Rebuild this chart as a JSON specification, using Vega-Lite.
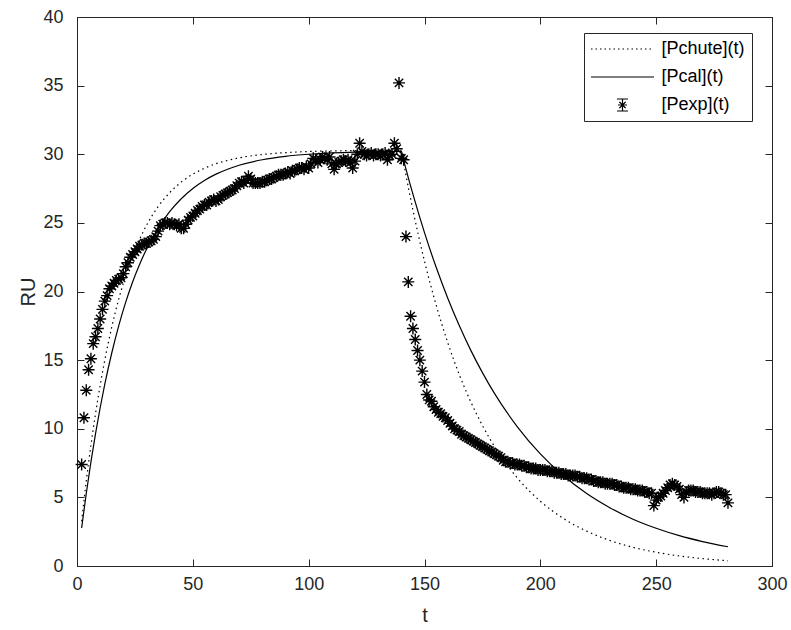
{
  "$schema": "https://vega.github.io/schema/vega-lite/v6.json",
  "width": 695,
  "height": 549,
  "autosize": {"type": "none"},
  "padding": {"left": 77, "top": 17, "right": 19, "bottom": 64},
  "background": "white",
  "config": {
    "view": {"stroke": "#262626", "strokeWidth": 1},
    "font": "Liberation Sans",
    "axis": {
      "grid": false,
      "domainColor": "#262626",
      "tickColor": "#262626",
      "labelColor": "#262626",
      "titleColor": "#262626",
      "labelFont": "Liberation Sans",
      "titleFont": "Liberation Sans",
      "labelFontSize": 18,
      "titleFontSize": 20,
      "titleFontWeight": "normal",
      "tickSize": -7,
      "domainWidth": 1,
      "tickWidth": 1,
      "labelFlush": false,
      "labelOverlap": false
    }
  },
  "datasets": {
    "curves": [
      {"t": 2, "chute": 3.26, "cal": 2.77},
      {"t": 4, "chute": 6.18, "cal": 5.28},
      {"t": 6, "chute": 8.78, "cal": 7.57},
      {"t": 8, "chute": 11.1, "cal": 9.65},
      {"t": 10, "chute": 13.17, "cal": 11.53},
      {"t": 12, "chute": 15.01, "cal": 13.25},
      {"t": 15, "chute": 17.41, "cal": 15.52},
      {"t": 18, "chute": 19.44, "cal": 17.5},
      {"t": 21, "chute": 21.15, "cal": 19.21},
      {"t": 24, "chute": 22.59, "cal": 20.69},
      {"t": 27, "chute": 23.8, "cal": 21.97},
      {"t": 30, "chute": 24.82, "cal": 23.08},
      {"t": 35, "chute": 26.18, "cal": 24.61},
      {"t": 40, "chute": 27.2, "cal": 25.82},
      {"t": 45, "chute": 27.97, "cal": 26.76},
      {"t": 50, "chute": 28.55, "cal": 27.51},
      {"t": 55, "chute": 28.98, "cal": 28.09},
      {"t": 60, "chute": 29.31, "cal": 28.55},
      {"t": 65, "chute": 29.55, "cal": 28.91},
      {"t": 70, "chute": 29.74, "cal": 29.2},
      {"t": 80, "chute": 29.98, "cal": 29.6},
      {"t": 90, "chute": 30.12, "cal": 29.85},
      {"t": 100, "chute": 30.2, "cal": 30.0},
      {"t": 110, "chute": 30.24, "cal": 30.1},
      {"t": 120, "chute": 30.27, "cal": 30.16},
      {"t": 130, "chute": 30.28, "cal": 30.19},
      {"t": 140, "chute": 30.29, "cal": 30.21},
      {"t": 141, "chute": 29.37, "cal": 29.56},
      {"t": 142, "chute": 28.47, "cal": 28.92},
      {"t": 145, "chute": 25.94, "cal": 27.09},
      {"t": 150, "chute": 22.21, "cal": 24.29},
      {"t": 155, "chute": 19.03, "cal": 21.78},
      {"t": 160, "chute": 16.29, "cal": 19.53},
      {"t": 165, "chute": 13.95, "cal": 17.52},
      {"t": 170, "chute": 11.95, "cal": 15.71},
      {"t": 175, "chute": 10.24, "cal": 14.09},
      {"t": 180, "chute": 8.77, "cal": 12.63},
      {"t": 190, "chute": 6.43, "cal": 10.16},
      {"t": 200, "chute": 4.72, "cal": 8.17},
      {"t": 210, "chute": 3.46, "cal": 6.57},
      {"t": 220, "chute": 2.54, "cal": 5.28},
      {"t": 230, "chute": 1.86, "cal": 4.25},
      {"t": 240, "chute": 1.36, "cal": 3.41},
      {"t": 250, "chute": 1.0, "cal": 2.75},
      {"t": 260, "chute": 0.73, "cal": 2.21},
      {"t": 270, "chute": 0.54, "cal": 1.78},
      {"t": 281, "chute": 0.38, "cal": 1.4}
    ],
    "exp": [
      {"t":2,"RU":7.4},{"t":3,"RU":10.8},{"t":4,"RU":12.8},{"t":5,"RU":14.3},{"t":6,"RU":15.1},{"t":7,"RU":16.2},{"t":8,"RU":16.7},{"t":9,"RU":17.3},{"t":10,"RU":18.0},
      {"t":11,"RU":18.7},{"t":12,"RU":19.3},{"t":13,"RU":19.7},{"t":14,"RU":20.2},{"t":15,"RU":20.4},{"t":16,"RU":20.6},{"t":17,"RU":20.8},{"t":18,"RU":20.9},{"t":19,"RU":21.0},{"t":20,"RU":21.3},
      {"t":21,"RU":21.8},{"t":22,"RU":22.1},{"t":23,"RU":22.5},{"t":24,"RU":22.7},{"t":25,"RU":22.9},{"t":26,"RU":23.1},{"t":27,"RU":23.3},{"t":28,"RU":23.4},{"t":29,"RU":23.5},{"t":30,"RU":23.5},
      {"t":31,"RU":23.6},{"t":32,"RU":23.7},{"t":33,"RU":23.8},{"t":34,"RU":24.0},{"t":35,"RU":24.4},{"t":36,"RU":24.8},{"t":37,"RU":24.9},{"t":38,"RU":25.0},{"t":39,"RU":25.0},{"t":40,"RU":24.9},
      {"t":41,"RU":25.0},{"t":42,"RU":24.9},{"t":43,"RU":24.8},{"t":44,"RU":24.9},{"t":45,"RU":24.6},{"t":46,"RU":24.6},{"t":47,"RU":24.9},{"t":48,"RU":25.2},{"t":49,"RU":25.4},{"t":50,"RU":25.5},
      {"t":51,"RU":25.7},{"t":52,"RU":25.9},{"t":53,"RU":26.0},{"t":54,"RU":26.2},{"t":55,"RU":26.3},{"t":56,"RU":26.3},{"t":57,"RU":26.5},{"t":58,"RU":26.6},{"t":59,"RU":26.7},{"t":60,"RU":26.6},
      {"t":61,"RU":26.7},{"t":62,"RU":26.9},{"t":63,"RU":27.0},{"t":64,"RU":27.1},{"t":65,"RU":27.2},{"t":66,"RU":27.3},{"t":67,"RU":27.4},{"t":68,"RU":27.5},{"t":69,"RU":27.7},{"t":70,"RU":27.9},
      {"t":71,"RU":28.0},{"t":72,"RU":27.9},{"t":73,"RU":28.1},{"t":74,"RU":28.4},{"t":75,"RU":28.2},{"t":76,"RU":27.9},{"t":77,"RU":27.9},{"t":78,"RU":27.9},{"t":79,"RU":27.9},{"t":80,"RU":28.0},
      {"t":81,"RU":28.0},{"t":82,"RU":28.1},{"t":83,"RU":28.2},{"t":84,"RU":28.2},{"t":85,"RU":28.3},{"t":86,"RU":28.4},{"t":87,"RU":28.5},{"t":88,"RU":28.5},{"t":89,"RU":28.5},{"t":90,"RU":28.6},
      {"t":91,"RU":28.7},{"t":92,"RU":28.6},{"t":93,"RU":28.8},{"t":94,"RU":28.8},{"t":95,"RU":28.9},{"t":96,"RU":29.0},{"t":97,"RU":29.0},{"t":98,"RU":28.9},{"t":99,"RU":29.1},{"t":100,"RU":29.0},
      {"t":101,"RU":29.3},{"t":102,"RU":29.7},{"t":103,"RU":29.6},{"t":104,"RU":29.4},{"t":105,"RU":29.6},{"t":106,"RU":29.8},{"t":107,"RU":29.7},{"t":108,"RU":29.6},{"t":109,"RU":29.8},{"t":110,"RU":29.3},
      {"t":111,"RU":28.9},{"t":112,"RU":29.3},{"t":113,"RU":29.4},{"t":114,"RU":29.5},{"t":115,"RU":29.6},{"t":116,"RU":29.5},{"t":117,"RU":29.6},{"t":118,"RU":29.4},{"t":119,"RU":29.0},{"t":120,"RU":29.5},
      {"t":121,"RU":30.0},{"t":122,"RU":30.8},{"t":123,"RU":30.2},{"t":124,"RU":30.0},{"t":125,"RU":29.9},{"t":126,"RU":30.0},{"t":127,"RU":30.1},{"t":128,"RU":29.9},{"t":129,"RU":30.0},{"t":130,"RU":30.0},
      {"t":131,"RU":29.9},{"t":132,"RU":30.0},{"t":133,"RU":30.1},{"t":134,"RU":29.6},{"t":135,"RU":29.9},{"t":136,"RU":30.0},{"t":137,"RU":30.8},{"t":138,"RU":30.4},{"t":139,"RU":35.2},{"t":140,"RU":29.7},
      {"t":141,"RU":29.6},{"t":142,"RU":24.0},{"t":143,"RU":20.7},{"t":144,"RU":18.2},{"t":145,"RU":17.3},{"t":146,"RU":16.5},{"t":147,"RU":15.7},{"t":148,"RU":15.0},{"t":149,"RU":14.2},{"t":150,"RU":13.4},
      {"t":151,"RU":12.5},{"t":152,"RU":12.1},{"t":153,"RU":12.0},{"t":154,"RU":11.6},{"t":155,"RU":11.4},{"t":156,"RU":11.2},{"t":157,"RU":11.1},{"t":158,"RU":10.9},{"t":159,"RU":10.8},{"t":160,"RU":10.6},
      {"t":161,"RU":10.4},{"t":162,"RU":10.2},{"t":163,"RU":10.0},{"t":164,"RU":9.9},{"t":165,"RU":9.8},{"t":166,"RU":9.6},{"t":167,"RU":9.5},{"t":168,"RU":9.4},{"t":169,"RU":9.3},{"t":170,"RU":9.2},
      {"t":171,"RU":9.1},{"t":172,"RU":9.0},{"t":173,"RU":8.9},{"t":174,"RU":8.8},{"t":175,"RU":8.7},{"t":176,"RU":8.6},{"t":177,"RU":8.5},{"t":178,"RU":8.4},{"t":179,"RU":8.3},{"t":180,"RU":8.2},
      {"t":181,"RU":8.1},{"t":182,"RU":8.0},{"t":183,"RU":7.9},{"t":184,"RU":7.7},{"t":185,"RU":7.6},{"t":186,"RU":7.6},{"t":187,"RU":7.5},{"t":188,"RU":7.5},{"t":189,"RU":7.4},{"t":190,"RU":7.4},
      {"t":191,"RU":7.4},{"t":192,"RU":7.3},{"t":193,"RU":7.3},{"t":194,"RU":7.2},{"t":195,"RU":7.2},{"t":196,"RU":7.1},{"t":197,"RU":7.1},{"t":198,"RU":7.1},{"t":199,"RU":7.0},{"t":200,"RU":7.0},
      {"t":201,"RU":7.0},{"t":202,"RU":7.0},{"t":203,"RU":6.9},{"t":204,"RU":6.9},{"t":205,"RU":6.9},{"t":206,"RU":6.8},{"t":207,"RU":6.8},{"t":208,"RU":6.8},{"t":209,"RU":6.7},{"t":210,"RU":6.7},
      {"t":211,"RU":6.7},{"t":212,"RU":6.6},{"t":213,"RU":6.6},{"t":214,"RU":6.6},{"t":215,"RU":6.6},{"t":216,"RU":6.5},{"t":217,"RU":6.5},{"t":218,"RU":6.4},{"t":219,"RU":6.4},{"t":220,"RU":6.4},
      {"t":221,"RU":6.3},{"t":222,"RU":6.3},{"t":223,"RU":6.2},{"t":224,"RU":6.2},{"t":225,"RU":6.1},{"t":226,"RU":6.1},{"t":227,"RU":6.1},{"t":228,"RU":6.0},{"t":229,"RU":6.0},{"t":230,"RU":6.0},
      {"t":231,"RU":6.0},{"t":232,"RU":5.9},{"t":233,"RU":5.9},{"t":234,"RU":5.8},{"t":235,"RU":5.8},{"t":236,"RU":5.7},{"t":237,"RU":5.7},{"t":238,"RU":5.7},{"t":239,"RU":5.6},{"t":240,"RU":5.6},
      {"t":241,"RU":5.6},{"t":242,"RU":5.5},{"t":243,"RU":5.5},{"t":244,"RU":5.5},{"t":245,"RU":5.4},{"t":246,"RU":5.4},{"t":247,"RU":5.3},{"t":248,"RU":5.3},{"t":249,"RU":4.4},{"t":250,"RU":4.8},
      {"t":251,"RU":5.0},{"t":252,"RU":5.1},{"t":253,"RU":5.3},{"t":254,"RU":5.5},{"t":255,"RU":5.7},{"t":256,"RU":5.9},{"t":257,"RU":6.0},{"t":258,"RU":5.9},{"t":259,"RU":5.8},{"t":260,"RU":5.6},
      {"t":261,"RU":5.2},{"t":262,"RU":5.0},{"t":263,"RU":5.4},{"t":264,"RU":5.5},{"t":265,"RU":5.5},{"t":266,"RU":5.5},{"t":267,"RU":5.4},{"t":268,"RU":5.4},{"t":269,"RU":5.4},{"t":270,"RU":5.3},
      {"t":271,"RU":5.3},{"t":272,"RU":5.3},{"t":273,"RU":5.3},{"t":274,"RU":5.2},{"t":275,"RU":5.3},{"t":276,"RU":5.4},{"t":277,"RU":5.4},{"t":278,"RU":5.3},{"t":279,"RU":5.2},{"t":280,"RU":5.2},
      {"t":281,"RU":4.6}
    ]
  },
  "layer": [
    {
      "data": {"name": "curves"},
      "mark": {"type": "line", "strokeDash": [1.5, 3.5], "strokeWidth": 1.2, "interpolate": "monotone"},
      "encoding": {
        "x": {"field": "t", "type": "quantitative", "scale": {"domain": [0, 300], "nice": false},
              "axis": {"orient": "bottom", "values": [0, 50, 100, 150, 200, 250, 300], "title": "t", "labelPadding": 16, "titlePadding": 12}},
        "y": {"field": "chute", "type": "quantitative", "scale": {"domain": [0, 40], "nice": false},
              "axis": {"orient": "left", "values": [0, 5, 10, 15, 20, 25, 30, 35, 40], "title": "RU", "labelPadding": 21, "titlePadding": 4}},
        "color": {"datum": "[Pchute](t)", "type": "nominal",
                  "scale": {"domain": ["[Pchute](t)", "[Pcal](t)", "[Pexp](t)"], "range": ["black", "black", "black"]},
                  "legend": {
                    "orient": "none", "legendX": 507, "legendY": 16, "title": null,
                    "symbolSize": 144, "symbolStrokeWidth": 1.2, "symbolOffset": 22.5,
                    "labelOffset": 30, "labelFontSize": 18, "labelFont": "Liberation Sans", "labelColor": "black",
                    "rowPadding": 10, "padding": 7, "strokeColor": "#262626", "fillColor": "white",
                    "encode": {"symbols": {"update": {
                      "shape": [{"test": "datum.value === '[Pexp](t)'", "value": "M-0.92,-1H0.92M0,-1V1M-0.92,1H0.92M-0.75,0H0.75M-0.53,-0.53L0.53,0.53M-0.53,0.53L0.53,-0.53"}, {"value": "M-5.25,0H5.25"}],
                      "strokeDash": [{"test": "datum.value === '[Pchute](t)'", "value": [1.5, 3]}, {"value": [1, 0]}],
                      "stroke": {"value": "black"},
                      "fill": {"value": "transparent"},
                      "opacity": {"value": 1}
                    }}}
                  }}
      }
    },
    {
      "data": {"name": "curves"},
      "mark": {"type": "line", "strokeWidth": 1.2, "interpolate": "monotone"},
      "encoding": {
        "x": {"field": "t", "type": "quantitative", "axis": {"orient": "top", "values": [0, 50, 100, 150, 200, 250, 300], "labels": false, "title": null}},
        "y": {"field": "cal", "type": "quantitative", "axis": {"orient": "right", "values": [0, 5, 10, 15, 20, 25, 30, 35, 40], "labels": false, "title": null}},
        "color": {"datum": "[Pcal](t)", "type": "nominal"}
      }
    },
    {
      "data": {"name": "exp"},
      "mark": {"type": "point", "shape": "M-1,0H1M0,-1V1M-0.7,-0.7L0.7,0.7M-0.7,0.7L0.7,-0.7", "size": 144, "filled": false, "strokeWidth": 1.4, "opacity": 1},
      "encoding": {
        "x": {"field": "t", "type": "quantitative", "axis": null},
        "y": {"field": "RU", "type": "quantitative", "axis": null},
        "color": {"datum": "[Pexp](t)", "type": "nominal"}
      }
    }
  ],
  "resolve": {"axis": {"x": "independent", "y": "independent"}}
}
